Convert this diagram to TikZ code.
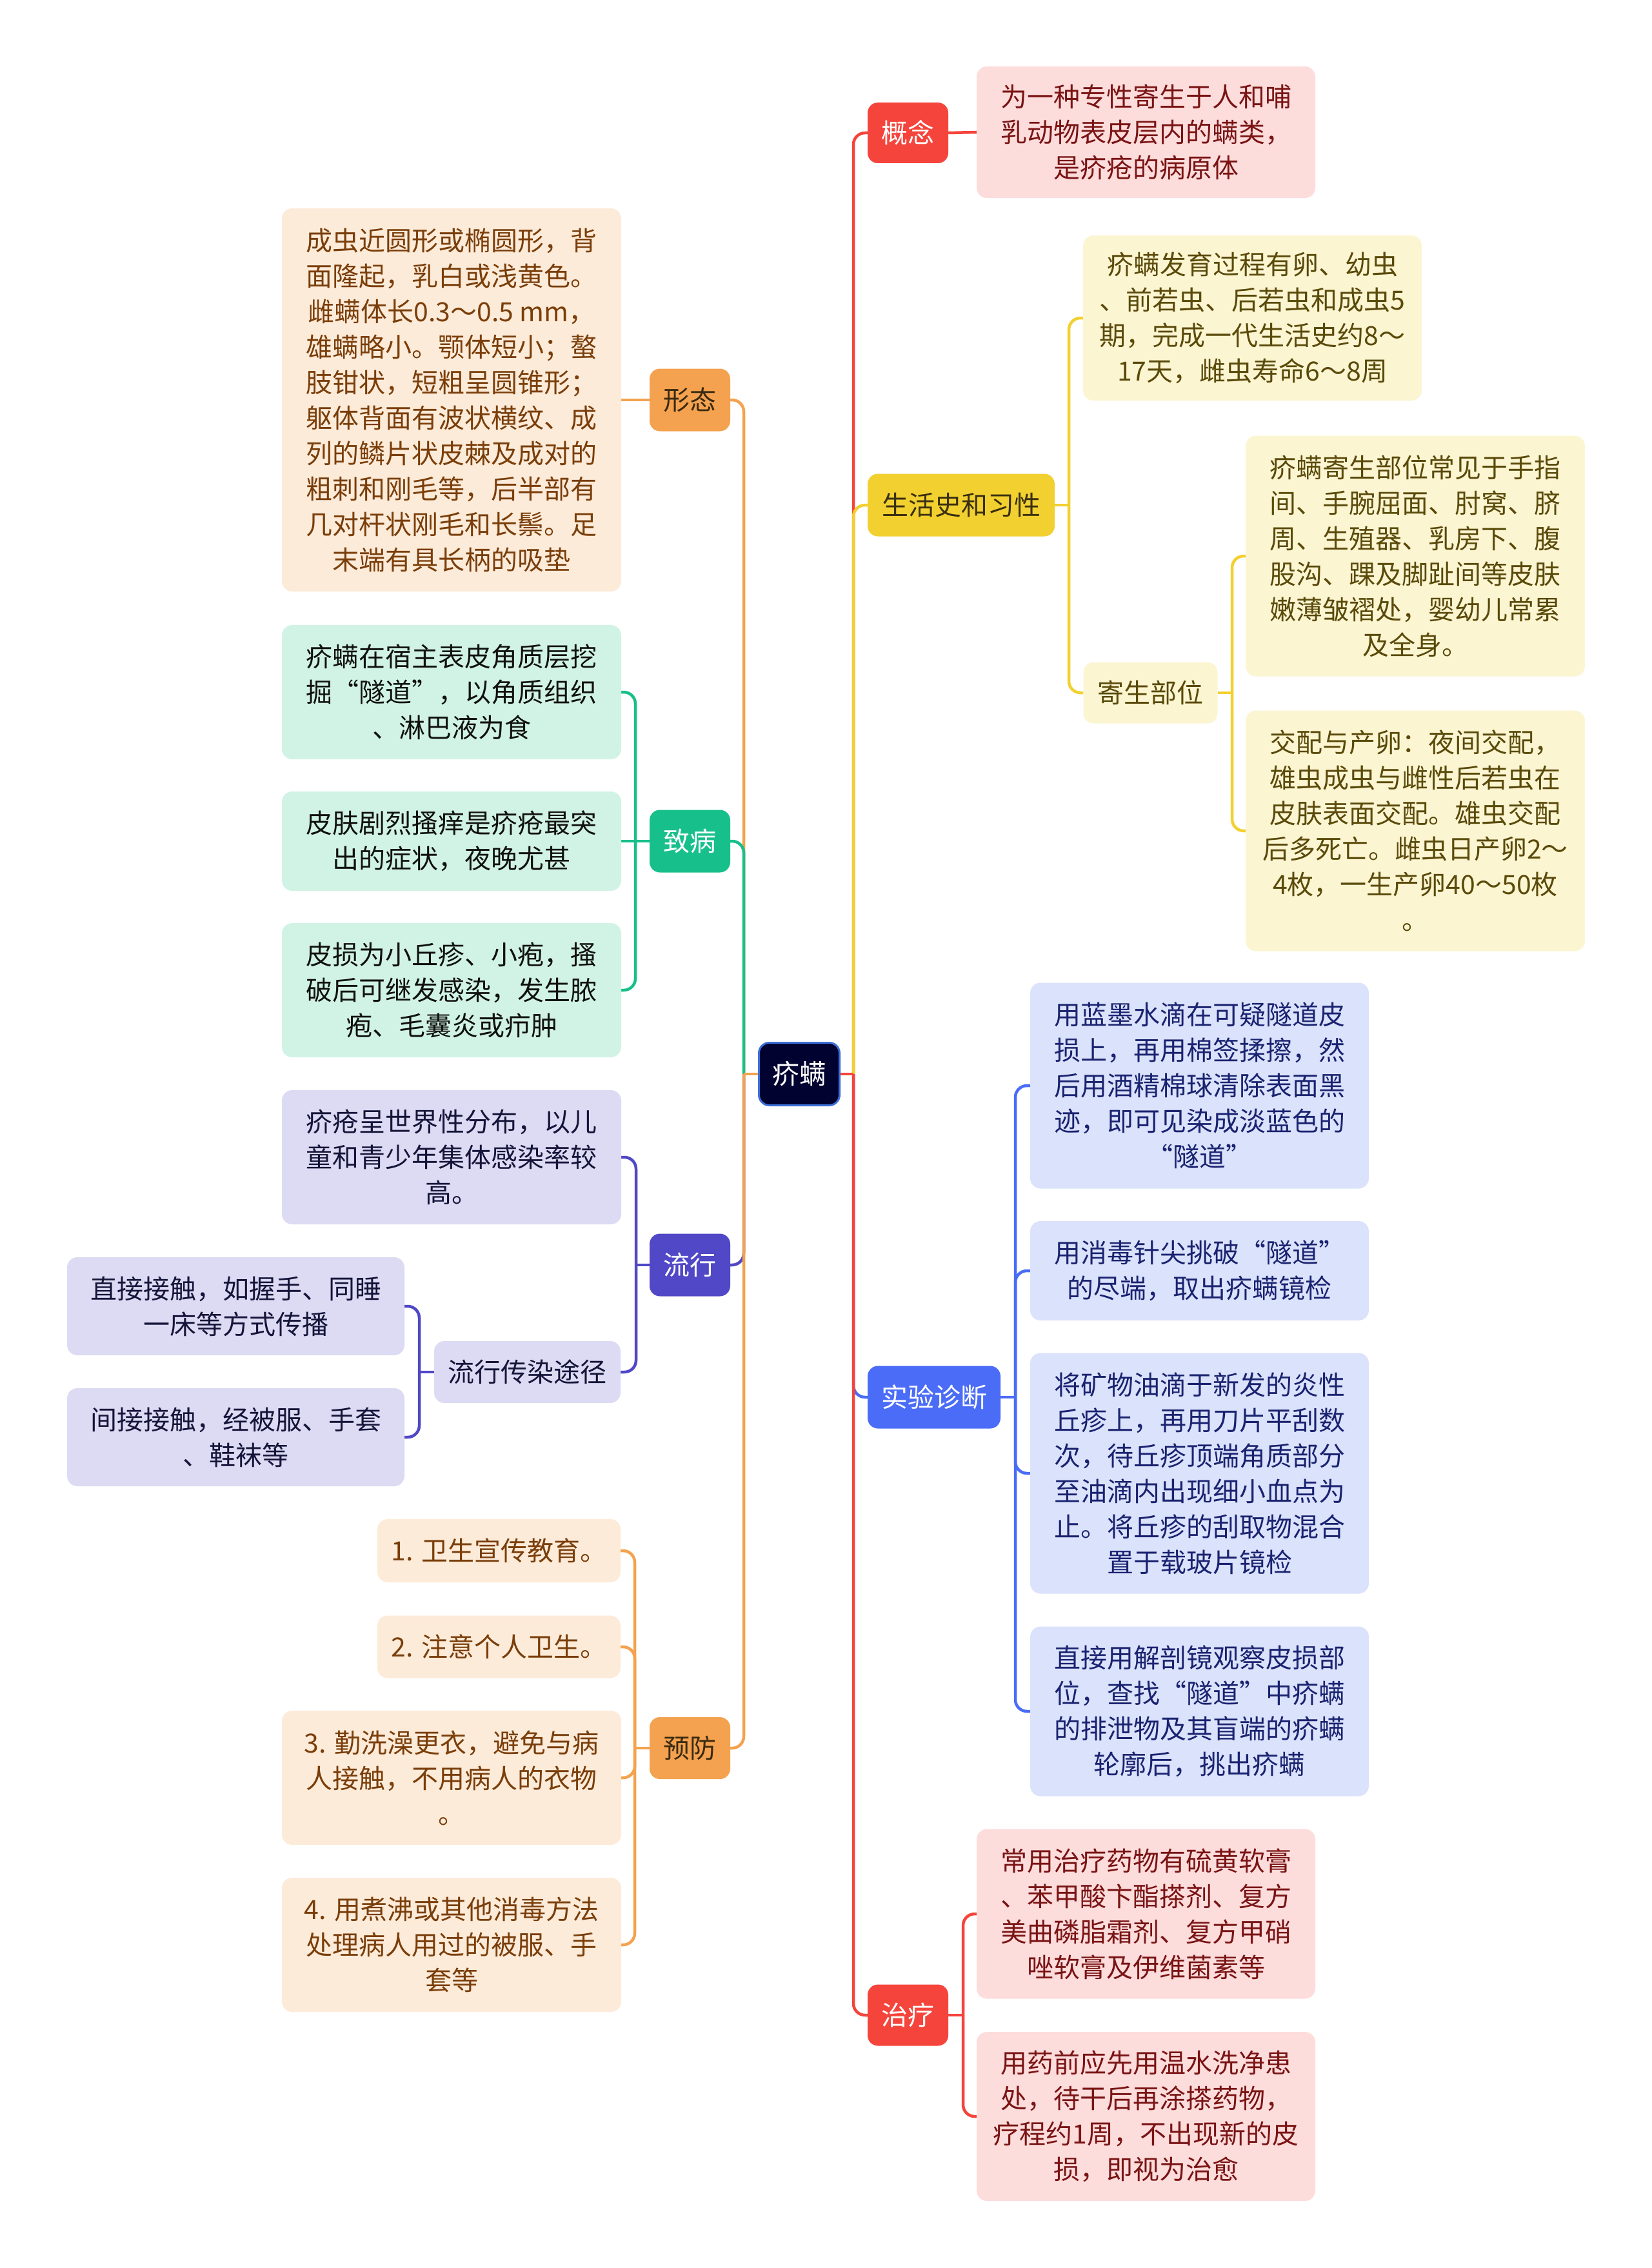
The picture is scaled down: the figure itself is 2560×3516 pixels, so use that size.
\documentclass[tikz,border=0pt]{standalone}
\usepackage{fontspec}
\setmainfont{Noto Sans CJK SC}
\definecolor{cRed}{HTML}{F5443C}
\definecolor{cRedL}{HTML}{FDDCDC}
\definecolor{cRedT}{HTML}{7A1414}
\definecolor{cYel}{HTML}{F2D030}
\definecolor{cYelL}{HTML}{FCF5D2}
\definecolor{cYelT}{HTML}{5A4A0A}
\definecolor{cYelB}{HTML}{3A3010}
\definecolor{cBlu}{HTML}{4A6CF7}
\definecolor{cBluL}{HTML}{DBE2FB}
\definecolor{cBluT}{HTML}{1A2370}
\definecolor{cOra}{HTML}{F4A24F}
\definecolor{cOraL}{HTML}{FDEBD9}
\definecolor{cOraT}{HTML}{7A3E0A}
\definecolor{cOraB}{HTML}{3A2A10}
\definecolor{cGre}{HTML}{17C08A}
\definecolor{cGreL}{HTML}{D1F3E5}
\definecolor{cGreT}{HTML}{111111}
\definecolor{cPur}{HTML}{5048C6}
\definecolor{cPurL}{HTML}{DCDBF3}
\definecolor{cPurT}{HTML}{15153A}
\definecolor{cRoot}{HTML}{020230}
\definecolor{cRootB}{HTML}{3D6FD6}
\pgfdeclarelayer{bg}
\pgfdeclarelayer{lines}
\pgfsetlayers{bg,lines,main}
\tikzset{
  box/.style={rounded corners=16pt, align=center, inner sep=0pt, font=\fontsize{41}{55}\selectfont},
  conn/.style={line width=4.5pt, rounded corners=18pt},
  stub/.style={line width=4.5pt},
}
\begin{document}
\begin{tikzpicture}[x=1pt,y=-1pt]
\begin{pgfonlayer}{bg}
\fill[white] (0,0) rectangle (2560,3516);
\end{pgfonlayer}
\useasboundingbox (0,0) rectangle (2560,3516);

% ---------- nodes ----------
\node[box, fill=cRoot, draw=cRootB, line width=3pt, text=white, minimum width=125, minimum height=97, font=\fontsize{42}{55}\selectfont] (root) at (1239,1665) {疥螨};

% right branches
\node[box, fill=cRed, text=white, minimum width=125, minimum height=94] (gn) at (1407.5,206) {概念};
\node[box, fill=cYel, text=cYelB, minimum width=290, minimum height=97] (shs) at (1490,783) {生活史和习性};
\node[box, fill=cBlu, text=white, minimum width=206, minimum height=97] (sy) at (1448,2166) {实验诊断};
\node[box, fill=cRed, text=white, minimum width=125, minimum height=95] (zl) at (1407.5,3124) {治疗};

\node[box, fill=cRedL, text=cRedT, minimum width=525, minimum height=204] (gn1) at (1776.5,205) {为一种专性寄生于人和哺\\乳动物表皮层内的螨类，\\是疥疮的病原体};

\node[box, fill=cYelL, text=cYelT, minimum width=525, minimum height=256] (sh1) at (1941.5,493) {疥螨发育过程有卵、幼虫\\、前若虫、后若虫和成虫5\\期，完成一代生活史约8～\\17天，雌虫寿命6～8周};
\node[box, fill=cYelL, text=cYelT, minimum width=208, minimum height=95] (jsbw) at (1783.5,1074) {寄生部位};
\node[box, fill=cYelL, text=cYelT, minimum width=526, minimum height=373] (js1) at (2194,862) {疥螨寄生部位常见于手指\\间、手腕屈面、肘窝、脐\\周、生殖器、乳房下、腹\\股沟、踝及脚趾间等皮肤\\嫩薄皱褶处，婴幼儿常累\\及全身。};
\node[box, fill=cYelL, text=cYelT, minimum width=526, minimum height=373] (js2) at (2194,1288) {交配与产卵：夜间交配，\\雄虫成虫与雌性后若虫在\\皮肤表面交配。雄虫交配\\后多死亡。雌虫日产卵2～\\4枚，一生产卵40～50枚\\。};

\node[box, fill=cBluL, text=cBluT, minimum width=525, minimum height=319] (sy1) at (1859.5,1683) {用蓝墨水滴在可疑隧道皮\\损上，再用棉签揉擦，然\\后用酒精棉球清除表面黑\\迹，即可见染成淡蓝色的\\“隧道”};
\node[box, fill=cBluL, text=cBluT, minimum width=525, minimum height=154] (sy2) at (1859.5,1970) {用消毒针尖挑破“隧道”\\的尽端，取出疥螨镜检};
\node[box, fill=cBluL, text=cBluT, minimum width=525, minimum height=373] (sy3) at (1859.5,2284) {将矿物油滴于新发的炎性\\丘疹上，再用刀片平刮数\\次，待丘疹顶端角质部分\\至油滴内出现细小血点为\\止。将丘疹的刮取物混合\\置于载玻片镜检};
\node[box, fill=cBluL, text=cBluT, minimum width=525, minimum height=263] (sy4) at (1859.5,2653) {直接用解剖镜观察皮损部\\位，查找“隧道”中疥螨\\的排泄物及其盲端的疥螨\\轮廓后，挑出疥螨};

\node[box, fill=cRedL, text=cRedT, minimum width=525, minimum height=263] (zl1) at (1776.5,2967) {常用治疗药物有硫黄软膏\\、苯甲酸卞酯搽剂、复方\\美曲磷脂霜剂、复方甲硝\\唑软膏及伊维菌素等};
\node[box, fill=cRedL, text=cRedT, minimum width=525, minimum height=262] (zl2) at (1776.5,3281) {用药前应先用温水洗净患\\处，待干后再涂搽药物，\\疗程约1周，不出现新的皮\\损，即视为治愈};

% left branches
\node[box, fill=cOra, text=cOraB, minimum width=125, minimum height=97] (xt) at (1069.5,620) {形态};
\node[box, fill=cGre, text=white, minimum width=125, minimum height=97] (zb) at (1069.5,1304) {致病};
\node[box, fill=cPur, text=white, minimum width=125, minimum height=97] (lx) at (1069.5,1961) {流行};
\node[box, fill=cOra, text=cOraB, minimum width=125, minimum height=96] (yf) at (1069.5,2710) {预防};

\node[box, fill=cOraL, text=cOraT, minimum width=526, minimum height=594] (xt1) at (700,620) {成虫近圆形或椭圆形，背\\面隆起，乳白或浅黄色。\\雌螨体长0.3～0.5 mm，\\雄螨略小。颚体短小；螯\\肢钳状，短粗呈圆锥形；\\躯体背面有波状横纹、成\\列的鳞片状皮棘及成对的\\粗刺和刚毛等，后半部有\\几对杆状刚毛和长鬃。足\\末端有具长柄的吸垫};

\node[box, fill=cGreL, text=cGreT, minimum width=526, minimum height=208] (zb1) at (700,1073) {疥螨在宿主表皮角质层挖\\掘“隧道”，以角质组织\\、淋巴液为食};
\node[box, fill=cGreL, text=cGreT, minimum width=526, minimum height=154] (zb2) at (700,1304) {皮肤剧烈搔痒是疥疮最突\\出的症状，夜晚尤甚};
\node[box, fill=cGreL, text=cGreT, minimum width=526, minimum height=208] (zb3) at (700,1535) {皮损为小丘疹、小疱，搔\\破后可继发感染，发生脓\\疱、毛囊炎或疖肿};

\node[box, fill=cPurL, text=cPurT, minimum width=526, minimum height=208] (lx1) at (700,1794) {疥疮呈世界性分布，以儿\\童和青少年集体感染率较\\高。};
\node[box, fill=cPurL, text=cPurT, minimum width=289, minimum height=96] (lxtj) at (817.5,2127) {流行传染途径};
\node[box, fill=cPurL, text=cPurT, minimum width=523, minimum height=152] (tj1) at (365.5,2025) {直接接触，如握手、同睡\\一床等方式传播};
\node[box, fill=cPurL, text=cPurT, minimum width=523, minimum height=152] (tj2) at (365.5,2228) {间接接触，经被服、手套\\、鞋袜等};

\node[box, fill=cOraL, text=cOraT, minimum width=377, minimum height=98] (yf1) at (773.5,2404) {1. 卫生宣传教育。};
\node[box, fill=cOraL, text=cOraT, minimum width=377, minimum height=97] (yf2) at (773.5,2553) {2. 注意个人卫生。};
\node[box, fill=cOraL, text=cOraT, minimum width=526, minimum height=208] (yf3) at (700,2756) {3. 勤洗澡更衣，避免与病\\人接触，不用病人的衣物\\。};
\node[box, fill=cOraL, text=cOraT, minimum width=526, minimum height=208] (yf4) at (700,3015) {4. 用煮沸或其他消毒方法\\处理病人用过的被服、手\\套等};

% ---------- junction coordinates ----------
\coordinate (rj) at (1323,1665);
\coordinate (lj) at (1153,1665);
\coordinate (shsJ) at (1657,783);
\coordinate (jsJ) at (1910,1074);
\coordinate (syJ) at (1574,2166);
\coordinate (zlJ) at (1493,3124);
\coordinate (zbJ) at (985,1304);
\coordinate (lxJ) at (986,1961);
\coordinate (tjJ) at (650,2127);
\coordinate (yfJ) at (984,2710);

% ---------- connectors ----------
\begin{pgfonlayer}{lines}
% right side of root
\draw[conn, cRed] (rj) |- (gn.west);
\draw[conn, cYel] (rj) |- (shs.west);
\draw[conn, cBlu] (rj) |- (sy.west);
\draw[conn, cRed] (rj) |- (zl.west);
\draw[stub, cRed] (root.east) -- (rj);
% left side of root
\draw[conn, cOra] (lj) |- (xt.east);
\draw[conn, cGre] (lj) |- (zb.east);
\draw[conn, cPur] (lj) |- (lx.east);
\draw[conn, cOra] (lj) |- (yf.east);
\draw[stub, cOra] (root.west) -- (lj);
% 概念
\draw[stub, cRed] (gn.east) -- (gn1.west);
% 生活史和习性
\draw[stub, cYel] (shs.east) -- (shsJ);
\draw[conn, cYel] (shsJ) |- (sh1.west);
\draw[conn, cYel] (shsJ) |- (jsbw.west);
% 寄生部位
\draw[stub, cYel] (jsbw.east) -- (jsJ);
\draw[conn, cYel] (jsJ) |- (js1.west);
\draw[conn, cYel] (jsJ) |- (js2.west);
% 实验诊断
\draw[stub, cBlu] (sy.east) -- (syJ);
\draw[conn, cBlu] (syJ) |- (sy1.west);
\draw[conn, cBlu] (syJ) |- (sy2.west);
\draw[conn, cBlu] (syJ) |- (sy3.west);
\draw[conn, cBlu] (syJ) |- (sy4.west);
% 治疗
\draw[stub, cRed] (zl.east) -- (zlJ);
\draw[conn, cRed] (zlJ) |- (zl1.west);
\draw[conn, cRed] (zlJ) |- (zl2.west);
% 形态
\draw[stub, cOra] (xt.west) -- (xt1.east);
% 致病
\draw[stub, cGre] (zb.west) -- (zbJ);
\draw[conn, cGre] (zbJ) |- (zb1.east);
\draw[stub, cGre] (zbJ) -- (zb2.east);
\draw[conn, cGre] (zbJ) |- (zb3.east);
% 流行
\draw[stub, cPur] (lx.west) -- (lxJ);
\draw[conn, cPur] (lxJ) |- (lx1.east);
\draw[conn, cPur] (lxJ) |- (lxtj.east);
% 流行传染途径
\draw[stub, cPur] (lxtj.west) -- (tjJ);
\draw[conn, cPur] (tjJ) |- (tj1.east);
\draw[conn, cPur] (tjJ) |- (tj2.east);
% 预防
\draw[stub, cOra] (yf.west) -- (yfJ);
\draw[conn, cOra] (yfJ) |- (yf1.east);
\draw[conn, cOra] (yfJ) |- (yf2.east);
\draw[conn, cOra] (yfJ) |- (yf3.east);
\draw[conn, cOra] (yfJ) |- (yf4.east);
\end{pgfonlayer}
\end{tikzpicture}
\end{document}
